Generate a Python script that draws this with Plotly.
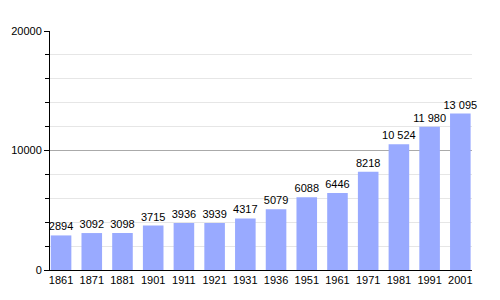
import plotly.graph_objects as go

years = ["1861", "1871", "1881", "1901", "1911", "1921", "1931", "1936", "1951", "1961", "1971", "1981", "1991", "2001"]
population = [2894, 3092, 3098, 3715, 3936, 3939, 4317, 5079, 6088, 6446, 8218, 10524, 11980, 13095]
labels = ["2894", "3092", "3098", "3715", "3936", "3939", "4317", "5079", "6088", "6446", "8218", "10 524", "11 980", "13 095"]
y_ticks = [0, 10000, 20000]

fig = go.Figure(go.Bar(
    x=list(range(len(years))), y=population, text=labels,
    textposition="outside", cliponaxis=False, constraintext="none",
    textfont=dict(size=11, color="black", family="Liberation Sans"),
    marker=dict(color="#99aaff", line=dict(width=0)),
    width=0.67,
))

fig.update_layout(
    width=500, height=300,
    margin=dict(l=50, r=28, t=31, b=30),
    paper_bgcolor="white", plot_bgcolor="white",
    showlegend=False,
    font=dict(family="Liberation Sans", size=11, color="black"),
)
fig.update_xaxes(
    tickmode="array", tickvals=list(range(len(years))), ticktext=years,
    range=[-0.36, 13.38], showgrid=False, showline=True, linecolor="black", linewidth=1,
    ticks="", ticklen=0, tickfont=dict(size=11), zeroline=False,
)
fig.update_yaxes(
    range=[0, 20000], tickmode="array", tickvals=y_ticks, ticktext=[str(v) for v in y_ticks],
    showgrid=True, gridcolor="#aaaaaa", gridwidth=1,
    showline=True, linecolor="black", linewidth=1,
    ticks="outside", ticklen=5, tickcolor="black", tickfont=dict(size=11),
    zeroline=False,
    minor=dict(dtick=2000, showgrid=True, gridcolor="#e6e6e6", ticks="outside", ticklen=4, tickcolor="black"),
)

fig.write_html("out.html")
